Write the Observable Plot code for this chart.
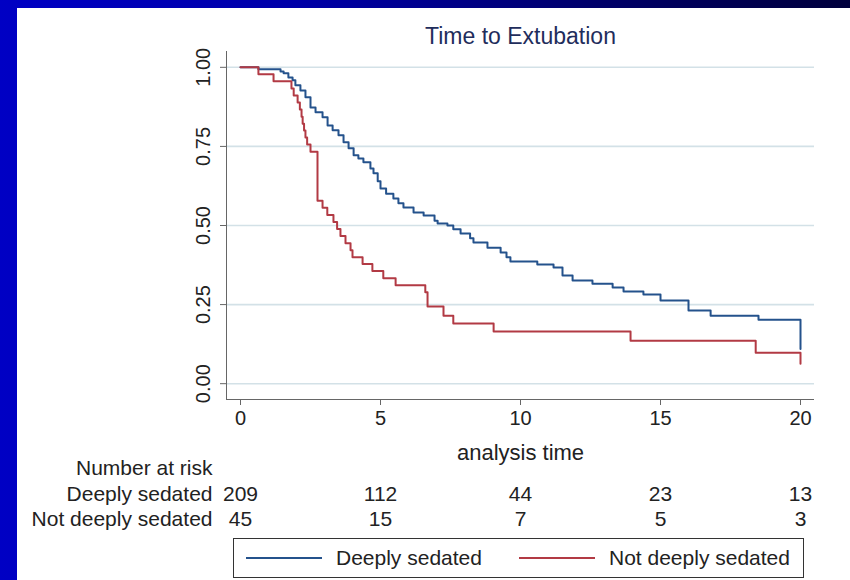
<!DOCTYPE html>
<html>
<head>
<meta charset="utf-8">
<script src="https://cdn.jsdelivr.net/npm/d3@7"></script>
<script src="https://cdn.jsdelivr.net/npm/@observablehq/plot@0.6"></script>
<style>
  html, body { margin: 0; padding: 0; }
  body {
    width: 850px; height: 580px; overflow: hidden; position: relative;
    background: linear-gradient(to right, #0000c4 0%, #0000a8 35%, #00006a 70%, #00003c 100%);
    font-family: "Liberation Sans", Arial, sans-serif;
  }
  #panel { position: absolute; left: 17px; top: 8px; width: 833px; height: 572px; background: #fff; }
  #chart { position: absolute; left: 0; top: 0; }
  #legend {
    position: absolute; left: 216px; top: 530px; width: 571px; height: 40px;
    border: 1.5px solid #333; box-sizing: border-box; background: #fff;
    font-size: 21px; color: #222;
  }
  #legend .item { position: absolute; top: 0; height: 38px; display: flex; align-items: center; }
  #legend .swatch { display: inline-block; width: 76px; height: 0; border-top: 2px solid; margin-right: 14px; }
</style>
</head>
<body>
<div id="panel">
  <div id="chart"></div>
  <div id="legend"></div>
</div>
<script>
// Kaplan-Meier estimates
const deepTime = [0, 0.64, 1.43, 1.54, 1.71, 1.86, 1.96, 2.14, 2.32, 2.5, 2.68, 2.93, 3.11, 3.29, 3.5, 3.68, 3.86, 4.04, 4.21, 4.39, 4.64, 4.75, 4.9, 5.0, 5.2, 5.46, 5.64, 5.82, 6.18, 6.54, 6.93, 7.04, 7.39, 7.6, 7.86, 8.2, 8.32, 8.82, 9.29, 9.5, 9.64, 10.6, 11.18, 11.5, 11.86, 12.57, 13.29, 13.68, 14.39, 15.0, 16.0, 16.79, 18.5, 20.0];
const deepSurv = [1, 0.994, 0.987, 0.981, 0.968, 0.959, 0.943, 0.927, 0.905, 0.873, 0.858, 0.842, 0.816, 0.801, 0.785, 0.763, 0.744, 0.722, 0.712, 0.70, 0.68, 0.665, 0.64, 0.617, 0.60, 0.585, 0.57, 0.557, 0.541, 0.532, 0.515, 0.506, 0.50, 0.488, 0.475, 0.46, 0.446, 0.43, 0.415, 0.40, 0.386, 0.377, 0.367, 0.342, 0.326, 0.316, 0.304, 0.291, 0.282, 0.263, 0.231, 0.215, 0.202, 0.11];

const notTime = [0, 0.64, 1.18, 1.82, 1.9, 2.04, 2.12, 2.18, 2.22, 2.27, 2.32, 2.38, 2.5, 2.75, 2.93, 3.1, 3.32, 3.45, 3.57, 3.75, 3.93, 4.0, 4.36, 4.71, 5.1, 5.54, 6.6, 6.68, 7.25, 7.6, 9.04, 13.93, 18.4, 20.0];
const notSurv = [1, 0.978, 0.956, 0.933, 0.911, 0.889, 0.867, 0.844, 0.822, 0.8, 0.778, 0.756, 0.733, 0.578, 0.556, 0.533, 0.511, 0.489, 0.467, 0.444, 0.422, 0.4, 0.378, 0.356, 0.333, 0.311, 0.289, 0.244, 0.215, 0.19, 0.165, 0.136, 0.098, 0.063];

// Number-at-risk table
const riskTimes = [0, 5, 10, 15, 20];
const riskDeep = [209, 112, 44, 23, 13];
const riskNot = [45, 15, 7, 5, 3];
const groupNames = ["Deeply sedated", "Not deeply sedated"];
const yTicks = [0, 0.25, 0.5, 0.75, 1];

const colors = {"Deeply sedated": "#24528c", "Not deeply sedated": "#b23a44"};

const deep = deepTime.map((t, i) => ({t, s: deepSurv[i], g: groupNames[0]}));
const notd = notTime.map((t, i) => ({t, s: notSurv[i], g: groupNames[1]}));
const risk = riskTimes.map((t, i) => ({t, a: riskDeep[i], b: riskNot[i]}));

const txt = "#222";
const chart = Plot.plot({
  width: 833,
  height: 522,
  marginLeft: 209,
  marginRight: 36,
  marginTop: 43,
  marginBottom: 131,
  style: {fontFamily: "'Liberation Sans', Arial, sans-serif", background: "transparent", overflow: "visible"},
  x: {domain: [-0.5, 20.5]},
  y: {domain: [-0.05, 1.05]},
  marks: [
    Plot.ruleY(yTicks, {stroke: "#d3e1e7", strokeWidth: 1.6}),
    Plot.ruleX([-0.5], {stroke: "#666", strokeWidth: 1}),
    Plot.ruleY([-0.05], {stroke: "#666", strokeWidth: 1}),
    Plot.axisX({ticks: riskTimes, tickSize: 6, tickPadding: 5, fontSize: 20, stroke: "#666", fill: txt, label: null}),
    Plot.axisY({ticks: yTicks, tickSize: 6, tickFormat: () => "", stroke: "#666", label: null}),
    Plot.text(yTicks, {frameAnchor: "left", y: d => d, text: d => d.toFixed(2), rotate: -90, dx: -23, fontSize: 20, fill: txt, textAnchor: "middle", lineAnchor: "middle"}),
    Plot.line(deep, {x: "t", y: "s", curve: "step-after", stroke: colors[groupNames[0]], strokeWidth: 2}),
    Plot.line(notd, {x: "t", y: "s", curve: "step-after", stroke: colors[groupNames[1]], strokeWidth: 2}),
    Plot.text(["Time to Extubation"], {frameAnchor: "top", dy: -15, fontSize: 23, fill: "#1f2d5c", lineAnchor: "middle"}),
    Plot.text(["analysis time"], {frameAnchor: "bottom", dy: 53, fontSize: 22, fill: txt, lineAnchor: "middle"}),
    Plot.text(["Number at risk"], {frameAnchor: "bottom-left", dx: -14, dy: 69, fontSize: 21, fill: txt, textAnchor: "end", lineAnchor: "middle"}),
    Plot.text([groupNames[0]], {frameAnchor: "bottom-left", dx: -14, dy: 95, fontSize: 21, fill: txt, textAnchor: "end", lineAnchor: "middle"}),
    Plot.text([groupNames[1]], {frameAnchor: "bottom-left", dx: -14, dy: 120, fontSize: 21, fill: txt, textAnchor: "end", lineAnchor: "middle"}),
    Plot.text(risk, {x: "t", frameAnchor: "bottom", text: "a", dy: 95, fontSize: 21, fill: txt, lineAnchor: "middle"}),
    Plot.text(risk, {x: "t", frameAnchor: "bottom", text: "b", dy: 120, fontSize: 21, fill: txt, lineAnchor: "middle"})
  ]
});
document.getElementById("chart").appendChild(chart);

// Legend
const legend = document.getElementById("legend");
const legendPos = [{x: 12, g: groupNames[0]}, {x: 285, g: groupNames[1]}];
legendPos.forEach(({x, g}) => {
  const item = document.createElement("div");
  item.className = "item";
  item.style.left = x + "px";
  const sw = document.createElement("span");
  sw.className = "swatch";
  sw.style.borderTopColor = colors[g];
  item.appendChild(sw);
  const label = document.createElement("span");
  label.textContent = g;
  item.appendChild(label);
  legend.appendChild(item);
});
</script>
</body>
</html>
